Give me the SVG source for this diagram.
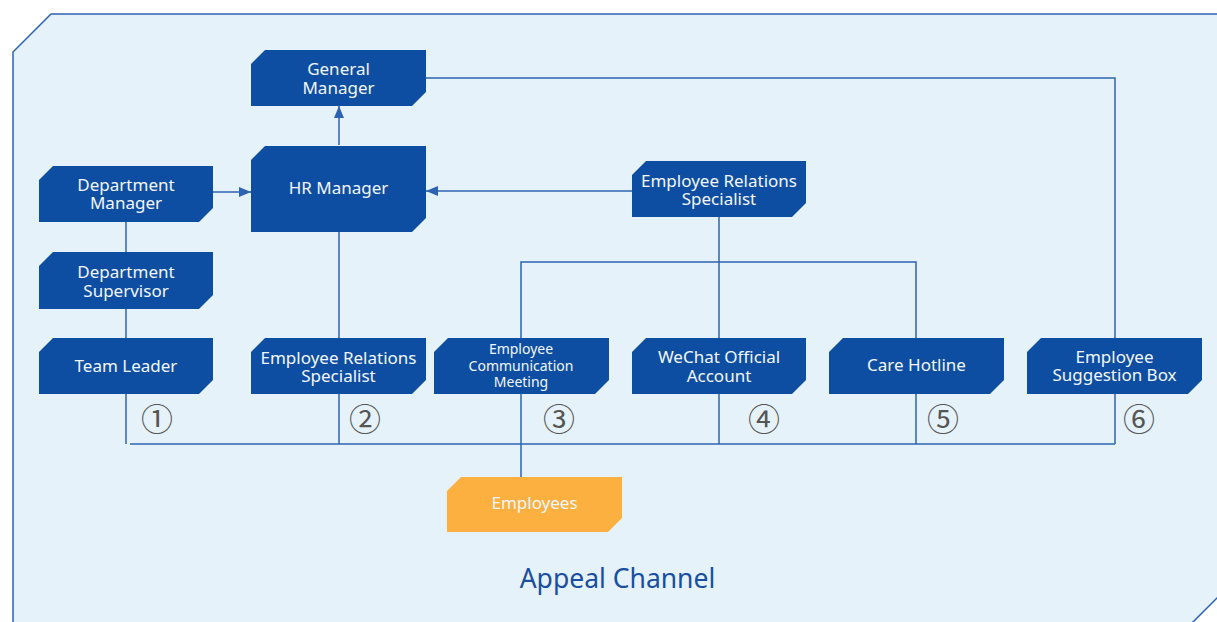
<svg xmlns="http://www.w3.org/2000/svg" width="1217" height="622" viewBox="0 0 1217 622">
<style>
.node{fill:#0e4ea2;}
.emp{fill:#fcb040;}
.t{fill:#f2f6fc;font-family:"Noto Sans","DejaVu Sans",sans-serif;font-size:17px;text-anchor:middle;}
.ts{font-size:14px;}
.ln{stroke:#2d63b2;stroke-width:1.5;fill:none;}
.num{fill:#555;font-family:"Noto Sans CJK SC","DejaVu Sans",sans-serif;font-size:32px;text-anchor:middle;}
.title{fill:#1a4e9e;font-family:"Noto Sans","DejaVu Sans",sans-serif;font-size:26.5px;text-anchor:middle;}
</style>
<defs>
<marker id="arrB" viewBox="0 0 12 10" refX="12" refY="5" markerWidth="12" markerHeight="11" markerUnits="userSpaceOnUse" orient="auto">
<path d="M0,0 L12,5 L0,10 Z" fill="#2d63b2"/>
</marker>
</defs>
<path d="M51,14 L1230,14 L1230,585 L1192,623 L13,623 L13,52 Z" fill="#e5f2f9" stroke="#2c62b4" stroke-width="1.5"/>
<g id="connectors">
<path class="ln" d="M213,192 L251,192" marker-end="url(#arrB)"/>
<path class="ln" d="M339,145 L339,106" marker-end="url(#arrB)"/>
<path class="ln" d="M632,191 L426,191" marker-end="url(#arrB)"/>
<path class="ln" d="M426,78 L1115,78 L1115,338"/>
<path class="ln" d="M126,222 L126,252"/>
<path class="ln" d="M126,309 L126,338"/>
<path class="ln" d="M126,394 L126,444"/>
<path class="ln" d="M339,232 L339,338"/>
<path class="ln" d="M339,394 L339,444"/>
<path class="ln" d="M719,217 L719,338"/>
<path class="ln" d="M521,338 L521,262 L916,262 L916,338"/>
<path class="ln" d="M521,394 L521,477"/>
<path class="ln" d="M719,394 L719,444"/>
<path class="ln" d="M916,394 L916,444"/>
<path class="ln" d="M1115,394 L1115,444"/>
<path class="ln" d="M130,444 L1115,444"/>
</g>
<g id="general-manager">
<path class="node" d="M265,50 L426,50 L426,92 L412,106 L251,106 L251,64 Z"/>
<text class="t" x="338.5" y="75">General</text>
<text class="t" x="338.5" y="94">Manager</text>
</g>
<g id="hr-manager">
<path class="node" d="M265,146 L426,146 L426,218 L412,232 L251,232 L251,160 Z"/>
<text class="t" x="338.5" y="194">HR Manager</text>
</g>
<g id="department-manager">
<path class="node" d="M53,166 L213,166 L213,208 L199,222 L39,222 L39,180 Z"/>
<text class="t" x="126" y="191">Department</text>
<text class="t" x="126" y="209">Manager</text>
</g>
<g id="department-supervisor">
<path class="node" d="M53,252 L213,252 L213,295 L199,309 L39,309 L39,266 Z"/>
<text class="t" x="126" y="278">Department</text>
<text class="t" x="126" y="297">Supervisor</text>
</g>
<g id="team-leader">
<path class="node" d="M53,338 L213,338 L213,380 L199,394 L39,394 L39,352 Z"/>
<text class="t" x="126" y="372">Team Leader</text>
</g>
<g id="er-specialist-1">
<path class="node" d="M265,338 L426,338 L426,380 L412,394 L251,394 L251,352 Z"/>
<text class="t" x="338.5" y="364">Employee Relations</text>
<text class="t" x="338.5" y="382">Specialist</text>
</g>
<g id="er-specialist-2">
<path class="node" d="M646,161 L806,161 L806,203 L792,217 L632,217 L632,175 Z"/>
<text class="t" x="719" y="187">Employee Relations</text>
<text class="t" x="719" y="205">Specialist</text>
</g>
<g id="communication-meeting">
<path class="node" d="M448,338 L609,338 L609,380 L595,394 L434,394 L434,352 Z"/>
<text class="t ts" x="521" y="354">Employee</text>
<text class="t ts" x="521" y="371">Communication</text>
<text class="t ts" x="521" y="387">Meeting</text>
</g>
<g id="wechat">
<path class="node" d="M646,338 L806,338 L806,380 L792,394 L632,394 L632,352 Z"/>
<text class="t" x="719" y="363">WeChat Official</text>
<text class="t" x="719" y="382">Account</text>
</g>
<g id="care-hotline">
<path class="node" d="M843,338 L1004,338 L1004,380 L990,394 L829,394 L829,352 Z"/>
<text class="t" x="916.5" y="371">Care Hotline</text>
</g>
<g id="suggestion-box">
<path class="node" d="M1041,338 L1202,338 L1202,380 L1188,394 L1027,394 L1027,352 Z"/>
<text class="t" x="1114.5" y="363">Employee</text>
<text class="t" x="1114.5" y="381">Suggestion Box</text>
</g>
<g id="employees">
<path class="emp" d="M461,477 L622,477 L622,518 L608,532 L447,532 L447,491 Z"/>
<text class="t" x="534.5" y="509">Employees</text>
</g>
<g id="labels">
<text class="num" x="157" y="431">①</text>
<text class="num" x="365" y="431">②</text>
<text class="num" x="559" y="431">③</text>
<text class="num" x="764" y="431">④</text>
<text class="num" x="943" y="431">⑤</text>
<text class="num" x="1139" y="431">⑥</text>
<text class="title" x="617.5" y="588">Appeal Channel</text>
</g>
</svg>
